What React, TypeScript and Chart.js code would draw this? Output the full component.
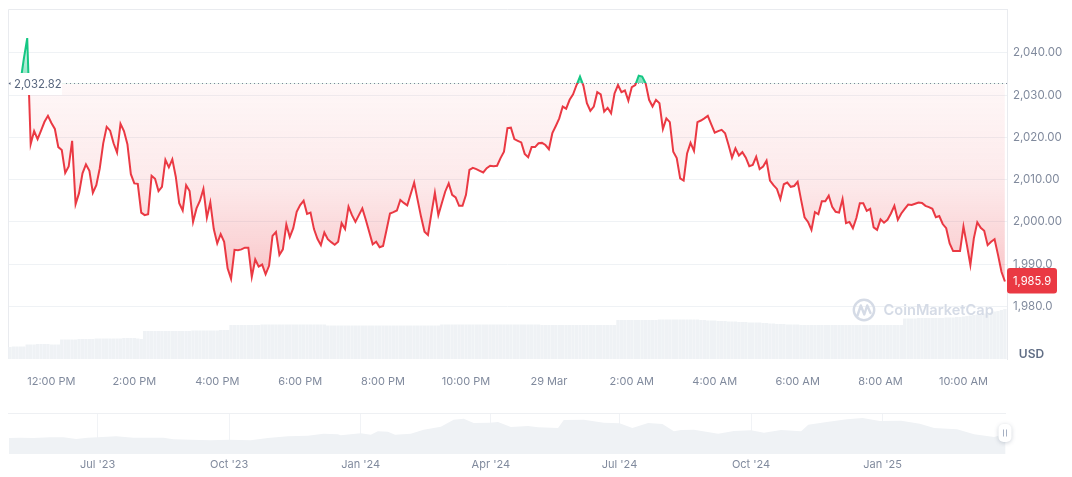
import React, { useEffect, useRef } from "react";
import { Chart, registerables } from "chart.js";

Chart.register(...registerables);

const baseline = 2032.82;
const lastPrice = "1,985.9";
const priceStartHour = -0.75;
const volumeStartHour = -1.0833;
const stepHours = 1 / 12;

const prices = [
  2032.9, 2038.5, 2043.5, 2018.4, 2021.5, 2019.6, 2021.6, 2023.7, 2025.1, 2023.4, 2022.0, 2017.7, 2017.0, 2011.6, 2013.1, 2019.2,
  2004.2, 2006.8, 2011.5, 2013.6, 2012.1, 2006.9, 2008.7, 2012.7, 2018.6, 2022.5, 2021.6, 2018.6, 2016.4, 2023.2, 2021.5, 2018.4,
  2011.3, 2009.1, 2009.0, 2002.2, 2001.6, 2001.8, 2010.9, 2010.2, 2007.3, 2008.3, 2014.7, 2012.9, 2014.8, 2010.7, 2004.4, 2002.7,
  2008.7, 2007.3, 2000.0, 2003.2, 2005.0, 2007.8, 2001.0, 2004.6, 1998.3, 1994.9, 1997.1, 1995.3, 1989.0, 1986.5, 1993.4, 1993.3,
  1993.5, 1993.9, 1993.9, 1987.0, 1991.1, 1989.4, 1989.9, 1987.6, 1989.6, 1996.7, 1997.6, 1992.2, 1993.5, 1999.4, 1996.4, 1998.5,
  2002.4, 2004.0, 2005.0, 2001.9, 2002.2, 1998.3, 1996.0, 1994.5, 1997.5, 1995.9, 1995.2, 1994.6, 1995.3, 1999.7, 1998.3, 2003.6,
  2001.6, 2000.0, 2001.6, 2003.2, 2000.5, 1997.6, 1994.7, 1995.3, 1994.0, 1994.3, 1998.1, 2002.0, 2002.3, 2002.7, 2005.2, 2004.5,
  2003.9, 2006.6, 2009.3, 2005.2, 2001.2, 1997.7, 1996.9, 2002.0, 2006.9, 2001.6, 2004.4, 2007.2, 2009.1, 2006.4, 2005.8, 2003.8,
  2003.8, 2006.4, 2012.3, 2012.8, 2012.5, 2012.1, 2011.7, 2012.7, 2013.3, 2013.2, 2013.3, 2015.1, 2016.6, 2022.2, 2022.3, 2019.6,
  2019.2, 2018.8, 2016.1, 2015.3, 2017.7, 2017.7, 2018.6, 2018.7, 2018.2, 2017.2, 2021.0, 2022.7, 2024.5, 2027.3, 2026.8, 2028.9,
  2030.2, 2032.4, 2034.4, 2032.2, 2028.1, 2026.3, 2027.3, 2030.7, 2030.2, 2026.1, 2027.0, 2025.7, 2030.4, 2032.4, 2030.7, 2031.1,
  2028.7, 2031.9, 2032.4, 2034.6, 2034.4, 2032.8, 2028.9, 2027.3, 2028.9, 2028.1, 2022.0, 2024.5, 2023.6, 2016.6, 2015.1, 2010.3,
  2009.8, 2016.2, 2018.7, 2016.8, 2023.6, 2024.0, 2024.5, 2025.1, 2023.1, 2021.1, 2021.5, 2021.8, 2021.0, 2018.2, 2015.2, 2017.4,
  2015.7, 2016.5, 2015.2, 2013.2, 2013.5, 2015.4, 2012.5, 2013.1, 2014.5, 2009.8, 2008.7, 2007.8, 2005.4, 2008.9, 2009.3, 2008.3,
  2008.5, 2009.5, 2005.2, 2001.1, 2000.0, 1998.1, 2002.3, 2001.8, 2004.9, 2004.9, 2006.2, 2003.6, 2002.4, 2002.2, 2005.4, 1999.7,
  2000.0, 1998.5, 2000.9, 2004.4, 2004.4, 2002.6, 2003.1, 1998.7, 1998.1, 2000.6, 1999.8, 2000.5, 2002.0, 2003.8, 2000.5, 2002.0,
  2003.1, 2004.1, 2004.0, 2004.3, 2004.6, 2004.5, 2003.8, 2003.5, 2003.1, 2001.1, 2001.4, 1999.5, 1998.5, 1994.9, 1993.1, 1993.1,
  1993.1, 1998.9, 1994.5, 1989.8, 1996.1, 1999.9, 1998.6, 1997.9, 1994.5, 1995.3, 1995.9, 1992.2, 1988.2, 1985.9,
];

// 24h volume in millions of USD
const volumes = [
  24, 24, 25, 25, 25, 25,
  29, 29, 29, 30, 30, 30, 30, 29, 29, 29,
  39, 39, 39, 39, 39, 40, 40, 40, 40, 40, 41, 41, 41, 41, 41, 41, 41, 41, 42, 42, 42, 42, 41, 40,
  56, 56, 56, 56, 56, 56, 56, 56, 56, 56, 56, 56, 56, 56, 57, 57, 57, 57, 57, 57, 57, 57, 58, 58, 58,
  68, 68, 68, 68, 68, 68, 68, 68, 68,
  69, 69, 69, 69, 69, 69, 69, 69, 69, 69, 69, 69, 69, 69, 69, 69, 69, 69, 69,
  67, 67, 67, 67, 67, 67, 67, 67, 67, 67, 67, 67, 67, 67, 67, 67, 67, 67, 67, 67, 67, 67, 67, 67, 67, 67, 67, 67, 67, 67, 67, 67, 67,
  69, 69, 69, 69, 69, 69, 69, 69, 69, 69, 69, 69, 69, 69, 69, 69, 69, 69, 69, 69, 69, 69, 69, 69, 69, 69, 69, 69, 69,
  68, 68, 68, 68, 68, 68, 68, 68, 68, 68, 68, 68, 68, 68, 68, 68, 68, 68, 68, 68, 68, 68,
  78, 78, 78, 78, 78, 78, 78, 78, 78, 78, 78, 78, 79, 79, 79, 79, 79, 79, 79, 79, 79, 79, 79, 79,
  78, 78, 77, 77, 77, 76, 76, 76, 75, 75, 75, 74, 74, 74, 73, 73, 73, 73,
  72, 72, 71, 71, 70, 70, 70, 69, 69, 69, 69,
  68, 68, 68, 68, 68, 68, 68, 68, 68, 68, 68, 68, 68, 68, 68, 68, 68, 68, 68, 68, 68, 68, 68, 68, 68, 68, 68, 68, 68, 68,
  81, 81, 81, 81, 82, 82, 82, 82, 82, 82, 82, 82, 83, 83, 83, 84, 84,
  85, 86, 87, 88, 89, 90, 91, 92, 93, 95, 96, 98, 100,
];

const timeTickHours = [0, 2, 4, 6, 8, 10, 12, 14, 16, 18, 20, 22];
const timeTickLabels = ["12:00 PM", "2:00 PM", "4:00 PM", "6:00 PM", "8:00 PM", "10:00 PM", "29 Mar", "2:00 AM", "4:00 AM", "6:00 AM", "8:00 AM", "10:00 AM"];
const priceTicks = [1980, 1990, 2000, 2010, 2020, 2030, 2040];

// navigator: days since 1 Jul 2023
const navDays = [
  -62, -54, -45, -33, -24, -15, -7, 0, 13, 25, 46, 53, 65, 79, 92, 107, 119, 133, 147, 158, 168, 170, 184, 191, 196, 203, 208, 219, 228, 240, 249, 256,
  263, 274, 280, 289, 301, 308, 322, 326, 340, 354, 365, 374, 385, 395, 403, 408, 417, 434, 445, 457, 466, 478, 492, 497, 510, 524, 535, 547, 562, 575,
  585, 601, 613, 627, 635,
];
const navPrices = [
  1171, 1196, 1171, 1220, 1220, 1098, 1196, 1220, 1293, 1196, 1196, 1074, 1049, 1000, 1049, 1000, 1171, 1293, 1342, 1488, 1440, 1366, 1513, 1415, 1659, 1635, 1415, 1488, 1781, 2001, 2513, 2586,
  2269, 2294, 2342, 1976, 2050, 1952, 1903, 2489, 2513, 2294, 2245, 1903, 2269, 2196, 1659, 1757, 1781, 1488, 1684, 1732, 1562, 1757, 1659, 2147, 2342, 2538, 2635, 2416, 2440, 2220,
  1903, 1806, 1440, 1244, 1488,
];
const navTickDays = [0, 92, 184, 275, 365, 457, 549];
const navTickLabels = ["Jul '23", "Oct '23", "Jan '24", "Apr '24", "Jul '24", "Oct '24", "Jan '25"];

const RED = "#ea3943";
const GREEN = "#16c784";
const GRID = "#eff2f5";
const TEXT = "#808a9d";
const FONT = "Inter";

const lineColor = (ctx: any) => {
  const { chart } = ctx;
  const { chartArea, scales } = chart;
  if (!chartArea) return RED;
  const g = chart.ctx.createLinearGradient(0, chartArea.top, 0, chartArea.bottom);
  const stop = (scales.y.getPixelForValue(baseline) - chartArea.top) / (chartArea.bottom - chartArea.top);
  g.addColorStop(0, GREEN);
  g.addColorStop(stop, GREEN);
  g.addColorStop(stop, RED);
  g.addColorStop(1, RED);
  return g;
};

const overlayPlugin = {
  id: "overlay",
  beforeDatasetsDraw(chart: any) {
    const { ctx, chartArea } = chart;
    ctx.save();
    ctx.strokeStyle = "#e9ebef";
    ctx.lineWidth = 1;
    ctx.beginPath();
    ctx.moveTo(chartArea.left + 0.5, chartArea.bottom);
    ctx.lineTo(chartArea.left + 0.5, chartArea.top + 0.5);
    ctx.lineTo(chartArea.right, chartArea.top + 0.5);
    ctx.stroke();
    ctx.restore();
  },
  afterDraw(chart: any) {
    const { ctx, chartArea, scales } = chart;
    const yBase = Math.round(scales.y.getPixelForValue(baseline)) + 0.5;
    ctx.save();

    // price-open label and dotted line
    ctx.fillStyle = "#ffffff";
    ctx.fillRect(9, yBase - 10.5, 53, 22);
    ctx.strokeStyle = "#7d8698";
    ctx.lineWidth = 1;
    ctx.setLineDash([1, 3]);
    ctx.beginPath();
    ctx.moveTo(66, yBase);
    ctx.lineTo(chartArea.right, yBase);
    ctx.stroke();
    ctx.setLineDash([]);
    ctx.fillStyle = "#58667e";
    ctx.font = `11.3px ${FONT}`;
    ctx.textBaseline = "middle";
    ctx.textAlign = "left";
    ctx.fillText("2,032.82", 14, yBase + 1.5);
    ctx.beginPath();
    ctx.moveTo(8.5, yBase);
    ctx.lineTo(10.5, yBase - 1.5);
    ctx.lineTo(10.5, yBase + 1.5);
    ctx.fill();

    // watermark
    ctx.strokeStyle = "#d5dbe6";
    ctx.fillStyle = "#d5dbe6";
    ctx.lineWidth = 2.4;
    ctx.lineJoin = "round";
    ctx.lineCap = "round";
    ctx.beginPath();
    ctx.arc(864, 310, 10.2, 0, Math.PI * 2);
    ctx.stroke();
    ctx.beginPath();
    ctx.moveTo(857.5, 315.5);
    ctx.lineTo(860.8, 305.5);
    ctx.lineTo(864.3, 314.5);
    ctx.lineTo(867.2, 305.5);
    ctx.lineTo(870.5, 313);
    ctx.stroke();
    ctx.font = `600 14.6px ${FONT}`;
    ctx.fillText("CoinMarketCap", 883.5, 311);

    // last price badge
    ctx.fillStyle = RED;
    ctx.beginPath();
    ctx.roundRect(1007, 268, 50, 25.5, 3);
    ctx.fill();
    ctx.fillStyle = "#ffffff";
    ctx.font = `11.2px ${FONT}`;
    ctx.textAlign = "center";
    ctx.fillText(lastPrice, 1032, 281.5);

    ctx.fillStyle = "#616e85";
    ctx.font = `600 12px ${FONT}`;
    ctx.fillText("USD", 1031.5, 354.5);
    ctx.restore();
  },
};

const handlePlugin = {
  id: "handle",
  afterDraw(chart: any) {
    const { ctx, chartArea } = chart;
    const cx = 1005;
    const cy = 38;
    ctx.save();
    ctx.strokeStyle = "#eef0f3";
    ctx.lineWidth = 1;
    ctx.beginPath();
    ctx.moveTo(chartArea.left, chartArea.top + 0.5);
    ctx.lineTo(1006, chartArea.top + 0.5);
    ctx.stroke();
    ctx.shadowColor = "rgba(88,102,126,0.3)";
    ctx.shadowBlur = 4;
    ctx.shadowOffsetY = 1;
    ctx.fillStyle = "#ffffff";
    ctx.beginPath();
    ctx.roundRect(cx - 6.5, cy - 9, 13, 18, 5);
    ctx.fill();
    ctx.shadowColor = "transparent";
    ctx.fillStyle = "#a6b0c3";
    ctx.fillRect(cx - 2, cy - 3.5, 1, 7);
    ctx.fillRect(cx + 1, cy - 3.5, 1, 7);
    ctx.restore();
  },
};

const App = () => {
  const mainRef = useRef<HTMLCanvasElement | null>(null);
  const navRef = useRef<HTMLCanvasElement | null>(null);

  useEffect(() => {
    if (!mainRef.current || !navRef.current) return;
    document.body.style.margin = "0";

    const main = new Chart(mainRef.current, {
      type: "line",
      data: {
        datasets: [
          {
            type: "line",
            data: prices.map((y, i) => ({ x: priceStartHour + i * stepHours, y })),
            borderColor: lineColor,
            borderWidth: 2,
            pointRadius: 0,
            tension: 0,
            yAxisID: "y",
            order: 1,
            fill: { target: { value: baseline }, above: "rgba(22,199,132,0.3)", below: "rgba(234,57,67,0.1)" },
          },
          {
            type: "bar",
            data: volumes.map((y, i) => ({ x: volumeStartHour + i * stepHours, y })),
            backgroundColor: "#eff2f5",
            barPercentage: 0.97,
            categoryPercentage: 1,
            yAxisID: "volume",
            order: 2,
          },
        ],
      } as any,
      options: {
        animation: false,
        responsive: false,
        events: [],
        layout: { padding: { left: 8, top: 9 } },
        plugins: { legend: { display: false }, tooltip: { enabled: false } },
        scales: {
          x: {
            type: "linear",
            offset: false,
            min: -1.047,
            max: 23.05,
            grid: { display: false },
            border: { display: false },
            afterBuildTicks: (axis: any) => {
              axis.ticks = timeTickHours.map((value) => ({ value }));
            },
            afterFit: (axis: any) => {
              axis.height = 36;
            },
            ticks: {
              autoSkip: false,
              maxRotation: 0,
              padding: 8,
              color: TEXT,
              font: { family: FONT, size: 11 },
              callback: (v: any) => timeTickLabels[timeTickHours.indexOf(v)],
            },
          },
          y: {
            type: "linear",
            position: "right",
            min: 1967.55,
            max: 2050.39,
            grid: { color: GRID, drawTicks: false },
            border: { display: true, color: "#e9ebef" },
            afterBuildTicks: (axis: any) => {
              axis.ticks = priceTicks.map((value) => ({ value }));
            },
            afterFit: (axis: any) => {
              axis.width = 65;
              // keep the plot top on the layout padding
              axis.paddingTop = 0;
              axis.paddingBottom = 0;
            },
            ticks: {
              padding: 6,
              color: TEXT,
              font: { family: FONT, size: 11.5 },
              callback: (v: any) =>
                v.toLocaleString("en-US", {
                  minimumFractionDigits: v >= 2000 ? 2 : 1,
                  maximumFractionDigits: v >= 2000 ? 2 : 1,
                }),
            },
          },
          volume: { type: "linear", display: false, min: 0, max: 700 },
        },
      } as any,
      plugins: [overlayPlugin],
    });

    // gradients need the laid-out scale
    const yScale = main.scales.y;
    const yBase = yScale.getPixelForValue(baseline);
    const c = main.ctx;
    const below = c.createLinearGradient(0, yBase, 0, yScale.getPixelForValue(1985));
    below.addColorStop(0, "rgba(234,57,67,0.04)");
    below.addColorStop(0.5, "rgba(234,57,67,0.11)");
    below.addColorStop(0.75, "rgba(234,57,67,0.2)");
    below.addColorStop(1, "rgba(234,57,67,0.3)");
    const above = c.createLinearGradient(0, yScale.getPixelForValue(2044), 0, yBase);
    above.addColorStop(0, "rgba(22,199,132,0.04)");
    above.addColorStop(1, "rgba(22,199,132,0.55)");
    (main.data.datasets[0] as any).fill = { target: { value: baseline }, above, below };
    main.update("none");

    const nav = new Chart(navRef.current, {
      type: "line",
      data: {
        datasets: [
          {
            data: navDays.map((x, i) => ({ x, y: navPrices[i] })),
            borderWidth: 0,
            backgroundColor: "#eff2f5",
            pointRadius: 0,
            tension: 0,
            fill: "start",
          },
        ],
      },
      options: {
        animation: false,
        responsive: false,
        events: [],
        layout: { padding: { left: 8, top: 18, right: 65 } },
        plugins: { legend: { display: false }, tooltip: { enabled: false } },
        scales: {
          x: {
            type: "linear",
            min: -62.7,
            max: 636,
            grid: { color: "#f1f3f6", drawTicks: false },
            border: { display: false },
            afterBuildTicks: (axis: any) => {
              axis.ticks = navTickDays.map((value) => ({ value }));
            },
            afterFit: (axis: any) => {
              axis.height = 23;
            },
            ticks: {
              autoSkip: false,
              maxRotation: 0,
              padding: 4,
              color: TEXT,
              font: { family: FONT, size: 11 },
              callback: (v: any) => navTickLabels[navTickDays.indexOf(v)],
            },
          },
          y: { type: "linear", display: false, min: 0, max: 3000 },
        },
      } as any,
      plugins: [handlePlugin],
    });

    return () => {
      main.destroy();
      nav.destroy();
    };
  }, []);

  return (
    <div style={{ position: "absolute", left: 0, top: 0, width: 1072, height: 477, overflow: "hidden", background: "#fff" }}>
      <canvas ref={mainRef} width={1072} height={395} style={{ position: "absolute", left: 0, top: 0 }} />
      <canvas ref={navRef} width={1072} height={82} style={{ position: "absolute", left: 0, top: 395 }} />
    </div>
  );
};

export default App;
